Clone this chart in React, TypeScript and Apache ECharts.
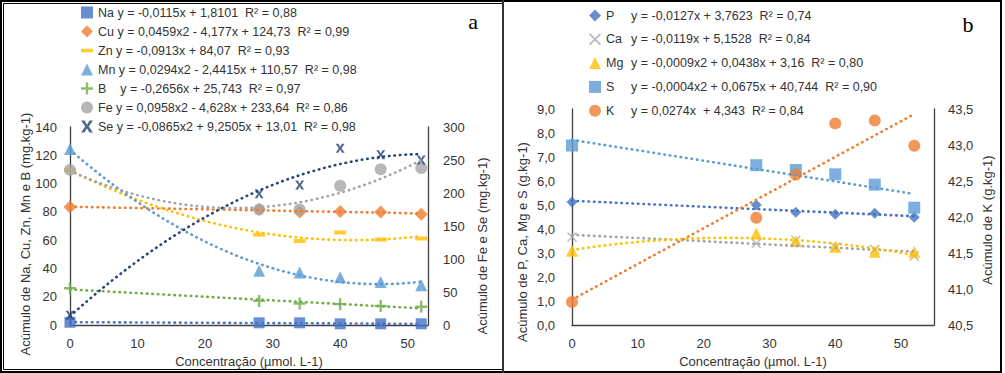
import React, { useEffect, useRef } from "react";
import * as echarts from "echarts";

// ---------- data ----------
const concentrations = [0, 28, 34, 40, 46, 52];

// panel a (mg.kg-1)
const naValues = [2.0, 1.6, 1.6, 0.9, 0.9, 0.9];
const cuValues = [83.4, 81.8, 80.0, 80.2, 80.0, 78.3];
const znValues = [109.6, 63.9, 59.4, 65.5, 60.5, 61.2];
const mnValues = [124.5, 38.4, 37.2, 33.8, 30.4, 28.1];
const bValues = [26.0, 17.1, 15.3, 14.8, 13.5, 13.0];
const feValues = [235, 175, 175, 211, 236, 238];
const seValues = [15, 199, 212, 268, 258, 250];

// panel b (g.kg-1)
const pValues = [5.13, 5.0, 4.7, 4.62, 4.66, 4.49];
const caValues = [3.67, 3.4, 3.53, 3.24, 3.15, 2.88];
const mgValues = [3.1, 3.81, 3.49, 3.26, 3.06, 3.06];
const sValues = [7.48, 6.66, 6.46, 6.28, 5.85, 4.89];
const kValues = [40.82, 41.99, 42.59, 43.3, 43.34, 42.99];

const equationsA = [
  "y = -0,0115x + 1,8101  R² = 0,88",
  "y = 0,0459x2 - 4,177x + 124,73  R² = 0,99",
  "y = -0,0913x + 84,07  R² = 0,93",
  "y = 0,0294x2 - 2,4415x + 110,57  R² = 0,98",
  "   y = -0,2656x + 25,743  R² = 0,97",
  "y = 0,0958x2 - 4,628x + 233,64  R² = 0,86",
  "y = -0,0865x2 + 9,2505x + 13,01  R² = 0,98",
];
const equationsB = [
  "y = -0,0127x + 3,7623  R² = 0,74",
  "y = -0,0119x + 5,1528  R² = 0,84",
  "y = -0,0009x2 + 0,0438x + 3,16  R² = 0,80",
  "y = -0,0004x2 + 0,0675x + 40,744  R² = 0,90",
  "y = 0,0274x  + 4,343  R² = 0,84",
];

const xTicks = [0, 10, 20, 30, 40, 50];

// ---------- helpers ----------
function polyfit(xs: number[], ys: number[], deg: number): number[] {
  const n = deg + 1;
  const A: number[][] = [];
  for (let i = 0; i < n; i++) {
    const row: number[] = [];
    for (let j = 0; j < n; j++) {
      let s = 0;
      for (const x of xs) s += Math.pow(x, i + j);
      row.push(s);
    }
    let r = 0;
    xs.forEach((x, k) => (r += ys[k] * Math.pow(x, i)));
    row.push(r);
    A.push(row);
  }
  for (let c = 0; c < n; c++) {
    let p = c;
    for (let r = c + 1; r < n; r++) if (Math.abs(A[r][c]) > Math.abs(A[p][c])) p = r;
    [A[c], A[p]] = [A[p], A[c]];
    for (let r = 0; r < n; r++) {
      if (r === c) continue;
      const f = A[r][c] / A[c][c];
      for (let k = c; k <= n; k++) A[r][k] -= f * A[c][k];
    }
  }
  return A.map((row, i) => row[n] / row[i]);
}

function trend(xs: number[], ys: number[], deg: number): number[][] {
  const coef = polyfit(xs, ys, deg);
  const out: number[][] = [];
  const x0 = Math.min(...xs);
  const x1 = Math.max(...xs);
  for (let x = x0; x <= x1 + 1e-9; x += 0.5) {
    let y = 0;
    coef.forEach((c, i) => (y += c * Math.pow(x, i)));
    out.push([x, y]);
  }
  return out;
}

const FONT = "'Liberation Sans', Arial, sans-serif";
const TXT = "#333333";

const SYM_PLUS = "path://M4,0H6V4H10V6H6V10H4V6H0V4H4Z";
const SYM_DASH = "path://M0,0H10V3H0Z";
const SYM_X = "path://M0,1L1,0L5,4L9,0L10,1L6,5L10,9L9,10L5,6L1,10L0,9L4,5Z";
const SYM_SE = "path://M0,0H3L5,3.5L7,0H10L6.5,5L10,10H7L5,6.5L3,10H0L3.5,5Z";

type Def = {
  name: string;
  values: number[];
  color: string;
  symbol: string;
  size: number | number[];
  deg: number;
  xi: number;
  yi: number;
};

const defsA: Def[] = [
  { name: "Na", values: naValues, color: "#4472C4", symbol: "rect", size: 11, deg: 1, xi: 0, yi: 0 },
  { name: "Cu", values: cuValues, color: "#ED7D31", symbol: "diamond", size: 13, deg: 1, xi: 0, yi: 0 },
  { name: "Zn", values: znValues, color: "#FFC000", symbol: SYM_DASH, size: [12, 4], deg: 2, xi: 0, yi: 0 },
  { name: "Mn", values: mnValues, color: "#5B9BD5", symbol: "triangle", size: 12, deg: 2, xi: 0, yi: 0 },
  { name: "B", values: bValues, color: "#70AD47", symbol: SYM_PLUS, size: 12, deg: 1, xi: 0, yi: 0 },
  { name: "Fe", values: feValues, color: "#A5A5A5", symbol: "circle", size: 12, deg: 2, xi: 0, yi: 1 },
  { name: "Se", values: seValues, color: "#264478", symbol: SYM_SE, size: 9, deg: 2, xi: 0, yi: 1 },
];
const defsB: Def[] = [
  { name: "P", values: pValues, color: "#4472C4", symbol: "diamond", size: 11, deg: 1, xi: 1, yi: 2 },
  { name: "Ca", values: caValues, color: "#A5A5A5", symbol: SYM_X, size: 10, deg: 1, xi: 1, yi: 2 },
  { name: "Mg", values: mgValues, color: "#FFC000", symbol: "triangle", size: 12, deg: 2, xi: 1, yi: 2 },
  { name: "S", values: sValues, color: "#5B9BD5", symbol: "rect", size: 12, deg: 1, xi: 1, yi: 2 },
  { name: "K", values: kValues, color: "#ED7D31", symbol: "circle", size: 12, deg: 1, xi: 1, yi: 3 },
];

function buildSeries(defs: Def[]) {
  const out: any[] = [];
  defs.forEach((d) => {
    out.push({
      type: "scatter",
      name: d.name,
      xAxisIndex: d.xi,
      yAxisIndex: d.yi,
      symbol: d.symbol,
      symbolSize: d.size,
      itemStyle: { color: d.color },
      data: concentrations.map((x, i) => [x, d.values[i]]),
      z: 3,
    });
  });
  defs.forEach((d) => {
    out.push({
      type: "line",
      name: d.name + " trend",
      xAxisIndex: d.xi,
      yAxisIndex: d.yi,
      showSymbol: false,
      symbol: "none",
      silent: true,
      smooth: false,
      lineStyle: { color: d.color, width: 2.6, type: [0.5, 5], cap: "round" },
      data: trend(concentrations, d.values, d.deg),
      z: 4,
    });
  });
  return out;
}

const axisLine = { show: true, lineStyle: { color: "#404040", width: 1.3 } };
const labelStyle = { color: TXT, fontSize: 13, fontFamily: FONT };
const comma1 = (v: number) => v.toFixed(1).replace(".", ",");

function xAxis(gridIndex: number, max: number) {
  return {
    type: "value",
    gridIndex,
    min: 0,
    max,
    interval: 10,
    axisLine,
    axisTick: { show: false },
    splitLine: { show: false },
    axisLabel: {
      ...labelStyle,
      margin: 12,
      formatter: (v: number) => (xTicks.indexOf(v) >= 0 ? String(v) : ""),
    },
    name: "Concentração (µmol. L-1)",
    nameLocation: "middle",
    nameGap: 25,
    nameTextStyle: { color: TXT, fontSize: 13, fontFamily: FONT },
  };
}

function yAxis(gridIndex: number, position: string, min: number, max: number, interval: number, margin: number, fmt?: (v: number) => string) {
  return {
    type: "value",
    gridIndex,
    position,
    min,
    max,
    interval,
    axisLine,
    axisTick: { show: false },
    splitLine: { show: false },
    axisLabel: { ...labelStyle, margin, formatter: fmt },
  };
}

function vtitle(text: string, x: number, y: number, rot: number) {
  return {
    type: "text",
    x,
    y,
    rotation: rot,
    style: {
      text,
      fill: TXT,
      font: `13px ${FONT}`,
      textAlign: "center",
      textVerticalAlign: "middle",
    },
  };
}

export default function App() {
  const ref = useRef<HTMLDivElement>(null);
  useEffect(() => {
    document.body.style.margin = "0";
    const chart = echarts.init(ref.current!, null, { renderer: "svg" });
    const option: any = {
      animation: false,
      backgroundColor: "#ffffff",
      textStyle: { fontFamily: FONT },
      grid: [
        { left: 70, top: 127, width: 358, height: 204 },
        { left: 572, top: 109, width: 362, height: 222 },
      ],
      xAxis: [xAxis(0, 53), xAxis(1, 55)],
      yAxis: [
        yAxis(0, "left", 0, 140, 20, 13),
        yAxis(0, "right", 0, 300, 50, 15),
        yAxis(1, "left", 0, 9, 1, 17, comma1),
        yAxis(1, "right", 40.5, 43.5, 0.5, 14, comma1),
      ],
      legend: [
        {
          orient: "vertical",
          left: 81,
          top: 6,
          padding: 0,
          itemWidth: 12,
          itemHeight: 12,
          itemGap: 6,
          selectedMode: false,
          data: defsA.map((d) => d.name),
          textStyle: { color: TXT, fontSize: 12.5, fontFamily: FONT },
          formatter: (name: string) => {
            const i = defsA.findIndex((d) => d.name === name);
            return `${name} ${equationsA[i]}`;
          },
        },
        {
          orient: "vertical",
          left: 589,
          top: 9,
          padding: 0,
          itemWidth: 12,
          itemHeight: 12,
          itemGap: 10.8,
          selectedMode: false,
          data: defsB.map((d) => d.name),
          textStyle: {
            color: TXT,
            fontSize: 12.5,
            fontFamily: FONT,
            rich: { n: { width: 25, fontSize: 12.5, fontFamily: FONT, color: TXT } },
          },
          formatter: (name: string) => {
            const i = defsB.findIndex((d) => d.name === name);
            return `{n|${name}}${equationsB[i]}`;
          },
        },
      ],
      graphic: [
        { type: "rect", shape: { x: 1, y: 1, width: 1000, height: 371 }, style: { fill: "none", stroke: "#000", lineWidth: 2 } },
        { type: "rect", shape: { x: 3.5, y: 3.5, width: 499.5, height: 366 }, style: { fill: "none", stroke: "#000", lineWidth: 1 } },
        { type: "line", shape: { x1: 503, y1: 0, x2: 503, y2: 373 }, style: { stroke: "#333", lineWidth: 2 } },
        { type: "text", x: 473, y: 21, style: { text: "a", font: "22px 'Liberation Serif', serif", fill: "#000", textAlign: "center", textVerticalAlign: "middle" } },
        { type: "text", x: 968, y: 24, style: { text: "b", font: "22px 'Liberation Serif', serif", fill: "#000", textAlign: "center", textVerticalAlign: "middle" } },
        vtitle("Acúmulo de Na, Cu, Zn, Mn e B (mg.kg-1)", 25, 234, Math.PI / 2),
        vtitle("Acúmulo de Fe e Se (mg.kg-1)", 482, 246, Math.PI / 2),
        vtitle("Acúmulo de P, Ca, Mg e S (g.kg-1)", 522, 242, Math.PI / 2),
        vtitle("Acúmulo de K (g.kg-1)", 987, 220, Math.PI / 2),
      ],
      series: [...buildSeries(defsA), ...buildSeries(defsB)],
    };
    chart.setOption(option);
    return () => chart.dispose();
  }, []);
  return <div ref={ref} style={{ width: 1005, height: 373 }} />;
}
